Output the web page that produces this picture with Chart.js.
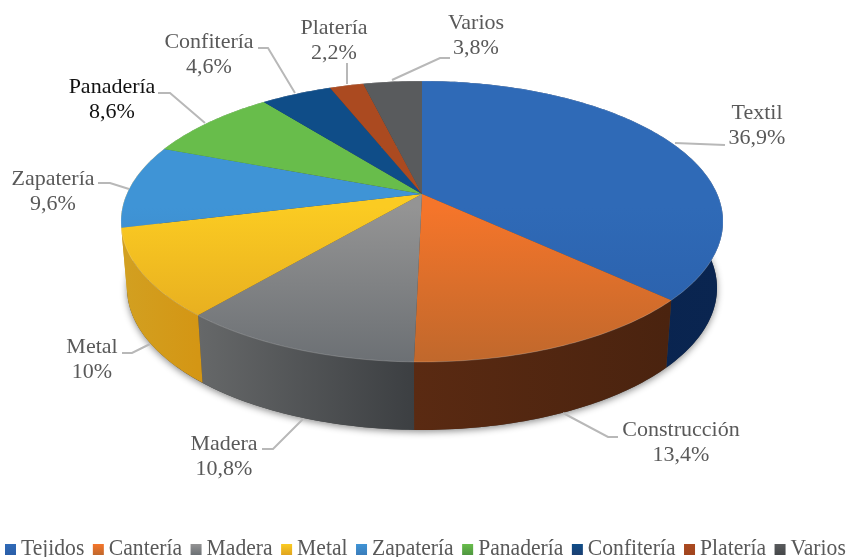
<!DOCTYPE html>
<html>
<head>
<meta charset="utf-8">
<style>
  html, body { margin: 0; padding: 0; background: #fff; }
  #wrap { width: 846px; height: 557px; position: relative; }
</style>
<script src="https://cdn.jsdelivr.net/npm/chart.js@4"></script>
</head>
<body>
<div id="wrap"><canvas id="pie"></canvas></div>
<script>
// legend names and slice names are not the same in the original figure
const categories = ['Tejidos', 'Cantería', 'Madera', 'Metal', 'Zapatería', 'Panadería', 'Confitería', 'Platería', 'Varios'];
const sliceNames = ['Textil', 'Construcción', 'Madera', 'Metal', 'Zapatería', 'Panadería', 'Confitería', 'Platería', 'Varios'];
const values = [36.9, 13.4, 10.8, 10, 9.6, 8.6, 4.6, 2.2, 3.8];
const valueLabels = ['36,9%', '13,4%', '10,8%', '10%', '9,6%', '8,6%', '4,6%', '2,2%', '3,8%'];

// colours: top of the face, bottom of the face, wall left, wall right
const faceLight = ['#2f6ab7', '#f5752a', '#949494', '#fbcb22', '#3f94d6', '#68bd4b', '#0f4d88', '#ab4a20', '#595b5d'];
const faceDark = ['#2a5ea8', '#c0682c', '#6c7074', '#e0a41f', '#3a7cba', '#4f9640', '#1b3f72', '#a0441e', '#454749'];
const wallLeft = ['#06214d', '#5a2a12', '#666869', '#d2a021', '#d2a021', '#3f7a30', '#0d305a', '#6b2d12', '#3a3a3a'];
const wallRight = ['#0a2550', '#4a230f', '#3c3f42', '#d49614', '#d2a021', '#3f7a30', '#0d305a', '#6b2d12', '#3a3a3a'];

// where each callout sits: label centre x, first line y, then the leader line
const labelBoxes = [
  { x: 757, y: 113, line: [[675, 143], [725, 145]] },
  { x: 681, y: 430, line: [[563, 413], [608, 437], [618, 437]] },
  { x: 224, y: 444, line: [[303, 419], [273, 449], [262, 449]] },
  { x: 92, y: 347, line: [[150, 344], [132, 353], [122, 353]] },
  { x: 53, y: 179, line: [[129, 189], [110, 183], [98, 183]] },
  { x: 112, y: 87, line: [[205, 123], [170, 93], [158, 93]] },
  { x: 209, y: 42, line: [[295, 93], [268, 48], [258, 48]] },
  { x: 334, y: 28, line: [[347, 84], [347, 63]] },
  { x: 476, y: 23, line: [[392, 80], [440, 58], [450, 58]] }
];
const labelColors = ['#595959', '#595959', '#595959', '#595959', '#595959', '#111111', '#595959', '#595959', '#595959'];

// the pie in perspective: the top is a true ellipse but the apex sits above its centre
const apex = { x: 422, y: 194 };
const persp = { bx: 295.2, by: 135.1, k: 0.1957 };
const topRim = { x: 422, y: 221.5, rx: 301, ry: 140.5 };
const bottomRim = { x: 422, y: 288, rx: 295, ry: 142 };

// legend strip along the bottom
const legendStrip = { x: 5, baseline: 555, box: 11, boxGap: 5, itemGap: 8.5, squeeze: 0.94 };

// angle as chart.js gives it (radians, -PI/2 is twelve o'clock) to a point on the rim
function rimPoint(angle) {
  const u = Math.cos(angle), v = Math.sin(angle);
  const w = 1 - persp.k * v;
  return { x: apex.x + persp.bx * u / w, y: apex.y + persp.by * v / w };
}

function toBottom(p) {
  const ex = (p.x - topRim.x) / topRim.rx;
  const ey = (p.y - topRim.y) / topRim.ry;
  return { x: bottomRim.x + bottomRim.rx * ex, y: bottomRim.y + bottomRim.ry * ey };
}

function arcPoints(arc) {
  const pts = [];
  const n = Math.max(4, Math.ceil((arc.endAngle - arc.startAngle) * 60));
  for (let i = 0; i <= n; i++) {
    pts.push(rimPoint(arc.startAngle + (arc.endAngle - arc.startAngle) * i / n));
  }
  return pts;
}

const pie3d = {
  id: 'pie3d',
  beforeDatasetDraw(chart, args) {
    const ctx = chart.ctx;
    const arcs = args.meta.data;
    ctx.save();

    // soft shadow under the base
    ctx.save();
    ctx.shadowColor = 'rgba(0,0,0,0.45)';
    ctx.shadowBlur = 7;
    ctx.shadowOffsetY = 2;
    ctx.fillStyle = '#444';
    ctx.beginPath();
    ctx.ellipse(bottomRim.x, bottomRim.y, bottomRim.rx, bottomRim.ry, 0, 0, Math.PI * 2);
    ctx.fill();
    ctx.restore();

    // walls first, the top face covers whatever is behind it
    arcs.forEach((arc, i) => {
      const pts = arcPoints(arc);
      const low = pts.map(toBottom);
      const xs = pts.map(p => p.x);
      const grad = ctx.createLinearGradient(Math.min(...xs), 0, Math.max(...xs), 0);
      grad.addColorStop(0, wallLeft[i]);
      grad.addColorStop(1, wallRight[i]);
      ctx.fillStyle = grad;
      ctx.beginPath();
      pts.forEach((p, j) => j ? ctx.lineTo(p.x, p.y) : ctx.moveTo(p.x, p.y));
      low.reverse().forEach(p => ctx.lineTo(p.x, p.y));
      ctx.closePath();
      ctx.fill();
    });

    // top face
    arcs.forEach((arc, i) => {
      const pts = arcPoints(arc);
      const grad = ctx.createLinearGradient(0, 81, 0, 362);
      grad.addColorStop(0, faceLight[i]);
      grad.addColorStop(0.45, faceLight[i]);
      grad.addColorStop(1, faceDark[i]);
      ctx.fillStyle = grad;
      ctx.beginPath();
      ctx.moveTo(apex.x, apex.y);
      pts.forEach(p => ctx.lineTo(p.x, p.y));
      ctx.closePath();
      ctx.fill();
      // thin lit rim
      ctx.strokeStyle = 'rgba(255,255,255,0.18)';
      ctx.lineWidth = 1;
      ctx.beginPath();
      pts.forEach((p, j) => j ? ctx.lineTo(p.x, p.y) : ctx.moveTo(p.x, p.y));
      ctx.stroke();
    });

    ctx.restore();
    return false;
  },
  afterDatasetsDraw(chart) {
    const ctx = chart.ctx;
    ctx.save();
    ctx.textAlign = 'center';
    ctx.textBaseline = 'middle';
    ctx.font = '22px "Liberation Serif"';
    labelBoxes.forEach((box, i) => {
      ctx.strokeStyle = '#b8b8b8';
      ctx.lineWidth = 2;
      ctx.beginPath();
      box.line.forEach((p, j) => j ? ctx.lineTo(p[0], p[1]) : ctx.moveTo(p[0], p[1]));
      ctx.stroke();
      ctx.fillStyle = labelColors[i];
      ctx.fillText(sliceNames[i], box.x, box.y);
      ctx.fillText(valueLabels[i], box.x, box.y + 25);
    });

    // legend: the tight spacing of the original is not reachable with the built in one
    ctx.textAlign = 'left';
    ctx.textBaseline = 'alphabetic';
    ctx.font = '23px "Liberation Serif"';
    let x = legendStrip.x;
    categories.forEach((name, i) => {
      const s = legendStrip.box;
      const grad = ctx.createLinearGradient(0, legendStrip.baseline - s, 0, legendStrip.baseline);
      grad.addColorStop(0, faceLight[i]);
      grad.addColorStop(1, faceDark[i]);
      ctx.fillStyle = grad;
      ctx.fillRect(x, legendStrip.baseline - s, s, s);
      x += s + legendStrip.boxGap;
      ctx.save();
      ctx.translate(x, legendStrip.baseline);
      ctx.scale(legendStrip.squeeze, 1);
      ctx.fillStyle = '#595959';
      ctx.fillText(name, 0, 0);
      ctx.restore();
      x += ctx.measureText(name).width * legendStrip.squeeze + legendStrip.itemGap;
    });
    ctx.restore();
  }
};

new Chart(document.getElementById('pie'), {
  type: 'pie',
  data: {
    labels: categories,
    datasets: [{
      data: values,
      backgroundColor: faceLight,
      borderWidth: 0
    }]
  },
  options: {
    responsive: true,
    maintainAspectRatio: false,
    animation: false,
    plugins: {
      tooltip: { enabled: false },
      legend: { display: false }
    }
  },
  plugins: [pie3d]
});
</script>
</body>
</html>
